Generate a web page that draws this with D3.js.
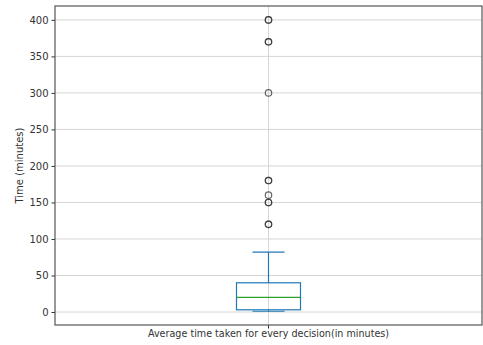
<!DOCTYPE html>
<html>
<head>
<meta charset="utf-8">
<script src="https://cdn.jsdelivr.net/npm/d3@7"></script>
<style>
  body { margin: 0; background: #fff; }
  svg text { font-family: "DejaVu Sans", sans-serif; fill: #333; }
</style>
</head>
<body>
<div id="chart"></div>
<script>
// box summary
const category = "Average time taken for every decision(in minutes)";
const whiskerLow = 1;
const q1 = 3;
const median = 20;
const q3 = 40;
const whiskerHigh = 82;
// fliers (duplicates drawn twice look darker)
const outliers = [400, 400, 370, 370, 300, 180, 180, 160, 150, 150, 120, 120];
const yTicks = [0, 50, 100, 150, 200, 250, 300, 350, 400];

const width = 483;
const height = 345;
const margin = { top: 6, right: 1, bottom: 20, left: 55 };

const svg = d3.select("#chart").append("svg")
	.attr("width", width)
	.attr("height", height);

const x = d3.scaleBand()
	.domain([category])
	.range([margin.left, width - margin.right]);

const y = d3.scaleLinear()
	.domain([-17.8, 419])
	.range([height - margin.bottom, margin.top]);

const cx = x(category) + x.bandwidth() / 2;
const boxW = 64;

// grid
const grid = svg.append("g");
grid.selectAll("line.h")
	.data(yTicks)
	.join("line")
	.attr("x1", margin.left)
	.attr("x2", width - margin.right)
	.attr("y1", (d) => y(d))
	.attr("y2", (d) => y(d))
	.style("stroke", "#d6d6d6")
	.style("stroke-width", 1);
grid.append("line")
	.attr("x1", cx)
	.attr("x2", cx)
	.attr("y1", margin.top)
	.attr("y2", height - margin.bottom)
	.style("stroke", "#d6d6d6");

// axes
const yAxis = svg.append("g")
	.attr("transform", `translate(${margin.left},0)`)
	.call(d3.axisLeft(y).tickValues(yTicks).tickSize(3.5).tickPadding(3));
const xAxis = svg.append("g")
	.attr("transform", `translate(0,${height - margin.bottom})`)
	.call(d3.axisBottom(x).tickSize(3.5).tickPadding(2));
[yAxis, xAxis].forEach((a) => {
	a.select(".domain").remove();
	a.selectAll("line").style("stroke", "#333");
	a.selectAll("text").style("font-size", "10px").style("fill", "#333");
});
xAxis.selectAll("text").style("font-size", "9.6px");

// frame
svg.append("rect")
	.attr("x", margin.left)
	.attr("y", margin.top)
	.attr("width", width - margin.left - margin.right)
	.attr("height", height - margin.top - margin.bottom)
	.style("fill", "none")
	.style("stroke", "#555")
	.style("stroke-width", 1.2);

svg.append("text")
	.attr("transform", `translate(23,${(margin.top + height - margin.bottom) / 2}) rotate(-90)`)
	.attr("text-anchor", "middle")
	.style("font-size", "10px")
	.text("Time (minutes)");

// box plot
const blue = "#1f77b4";
const box = svg.append("g");
box.append("line")
	.attr("x1", cx).attr("x2", cx)
	.attr("y1", y(q3)).attr("y2", y(whiskerHigh))
	.style("stroke", blue).style("stroke-width", 1.2);
box.append("line")
	.attr("x1", cx).attr("x2", cx)
	.attr("y1", y(q1)).attr("y2", y(whiskerLow))
	.style("stroke", blue).style("stroke-width", 1.2);
box.selectAll("line.cap")
	.data([whiskerLow, whiskerHigh])
	.join("line")
	.attr("x1", cx - boxW / 4).attr("x2", cx + boxW / 4)
	.attr("y1", (d) => y(d)).attr("y2", (d) => y(d))
	.style("stroke", blue).style("stroke-width", 1.2);
box.append("rect")
	.attr("x", cx - boxW / 2)
	.attr("width", boxW)
	.attr("y", y(q3))
	.attr("height", y(q1) - y(q3))
	.style("fill", "none")
	.style("stroke", blue).style("stroke-width", 1.2);
box.append("line")
	.attr("x1", cx - boxW / 2).attr("x2", cx + boxW / 2)
	.attr("y1", y(median)).attr("y2", y(median))
	.style("stroke", "#2ca02c").style("stroke-width", 1.2);

box.selectAll("circle")
	.data(outliers)
	.join("circle")
	.attr("cx", cx)
	.attr("cy", (d) => y(d))
	.attr("r", 3.2)
	.style("fill", "none")
	.style("stroke", "#333")
	.style("stroke-width", 1.2)
	.style("opacity", 0.75);
</script>
</body>
</html>
